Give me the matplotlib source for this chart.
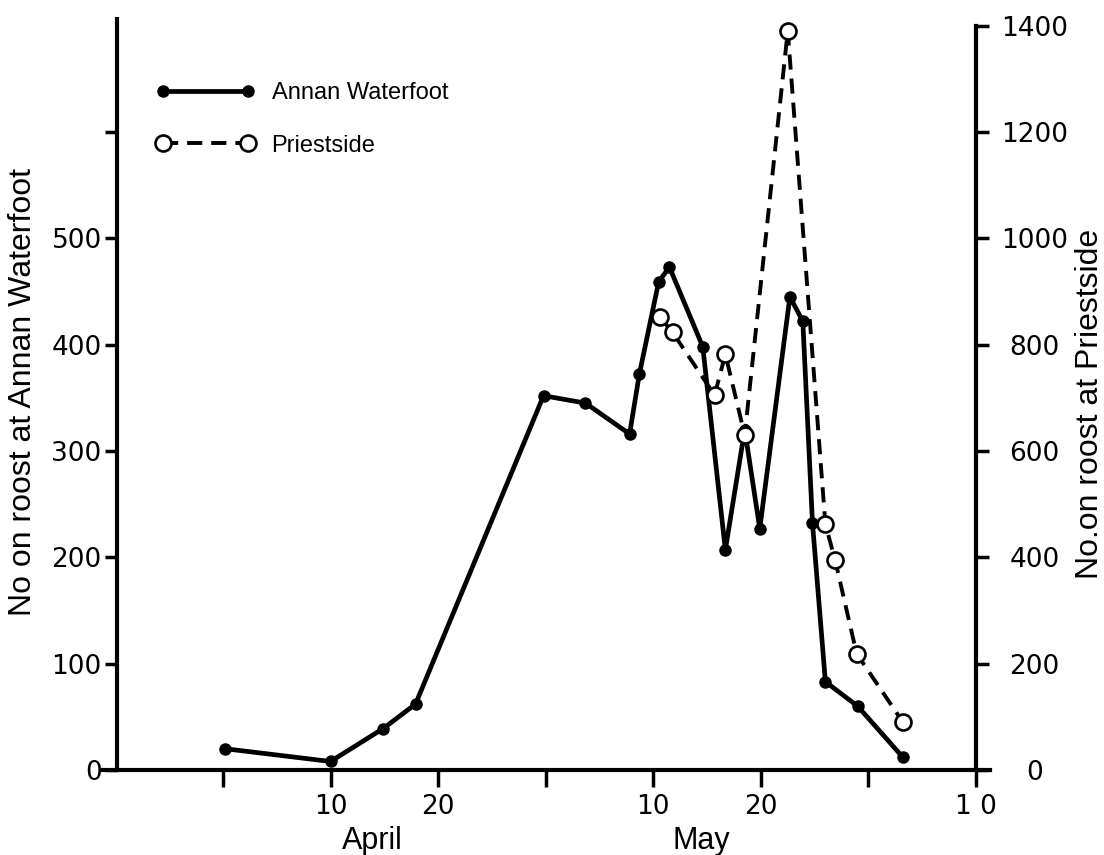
import matplotlib
matplotlib.use('Agg')

import matplotlib.pyplot as plt
from matplotlib.transforms import blended_transform_factory

# x = days, one tick every 10 days (tick 0 is the unlabelled one before 10 April)
annan_day = [0.2, 10.0, 14.9, 17.9, 29.8, 33.7, 37.8, 38.7, 40.5, 41.5,
             44.6, 46.7, 48.5, 49.9, 52.7, 53.9, 54.8, 56.0, 59.0, 63.2]
annan_count = [20, 8, 39, 62, 352, 345, 316, 372, 459, 473,
               398, 207, 320, 227, 445, 422, 232, 83, 60, 12]

priest_day = [40.6, 41.8, 45.7, 46.7, 48.5, 52.5, 56.0, 56.9, 58.9, 63.2]
priest_count = [852, 823, 705, 782, 630, 1390, 462, 395, 219, 90]

x_ticks = [0, 10, 20, 30, 40, 50, 60, 70]
x_tick_labels = ['', '10', '20', '', '10', '20', '', '1 0']
left_ticks = [0, 100, 200, 300, 400, 500, 600]
left_tick_labels = ['0', '100', '200', '300', '400', '500', '']
right_ticks = [0, 200, 400, 600, 800, 1000, 1200, 1400]
months = ['April', 'May']
month_day = [13.9, 44.5]

plt.rcParams['font.family'] = 'DejaVu Sans'
txt_font = 'Liberation Sans'

fig = plt.figure(figsize=(11.04, 8.55), dpi=100)
ax = fig.add_axes([103 / 1104, 85 / 855, 887 / 1104, 755 / 855])
ax2 = ax.twinx()

l1, = ax.plot(annan_day, annan_count, color='black', lw=3.4, marker='o', ms=8,
              label='Annan Waterfoot')
l2, = ax2.plot(priest_day, priest_count, color='black', lw=2.8, ls=(0, (3.9, 2.3)),
               marker='o', ms=11.5, mfc='white', mec='black', mew=1.9,
               label='Priestside')

ax.set_xlim(-11.15, 71.3)
ax.set_ylim(0, 710)
ax2.set_ylim(0, 1420)

# spines
for s in ['top', 'right']:
    ax.spines[s].set_visible(False)
for s in ['top', 'left', 'bottom']:
    ax2.spines[s].set_visible(False)
ax.spines['left'].set_position(('data', -9.85))
ax.spines['left'].set_bounds(0, 706)
ax2.spines['right'].set_position(('data', 70))
ax2.spines['right'].set_bounds(0, 1400)
for sp in [ax.spines['left'], ax.spines['bottom'], ax2.spines['right']]:
    sp.set_linewidth(3)

ax.set_xticks(x_ticks)
ax.set_xticklabels(x_tick_labels)
ax.set_yticks(left_ticks)
ax.set_yticklabels(left_tick_labels)
ax2.set_yticks(right_ticks)
ax2.set_yticklabels([str(v) for v in right_ticks], ha='center')

ax.tick_params(axis='x', direction='out', length=12, width=2.5, labelsize=19, pad=5)
ax.tick_params(axis='y', direction='out', length=9, width=2.5, labelsize=19, pad=2)
ax2.tick_params(axis='y', direction='out', length=9, width=2.5, labelsize=19, pad=33)

ax.set_ylabel('No on roost at Annan Waterfoot', fontsize=23, family=txt_font)
ax.yaxis.set_label_coords(-0.073, 0.5)
ax2.set_ylabel('No.on roost at Priestside', fontsize=23, family=txt_font)
ax2.yaxis.set_label_coords(1.096, 0.485)

# month names under the day ticks
trans = blended_transform_factory(ax.transData, fig.dpi_scale_trans)
for m, d in zip(months, month_day):
    ax.text(d, 0.14, m, transform=trans, ha='center', va='center',
            fontsize=22, family=txt_font)

ax.legend([l1, l2], ['Annan Waterfoot', 'Priestside'], loc='upper left',
          bbox_to_anchor=(144 / 1104, 1 - 70 / 855), bbox_transform=fig.transFigure,
          frameon=False, borderpad=0, numpoints=2, handlelength=4.2,
          handletextpad=0.7, labelspacing=1.3,
          prop={'family': txt_font, 'size': 17})

fig.savefig('out.png', dpi=100)
